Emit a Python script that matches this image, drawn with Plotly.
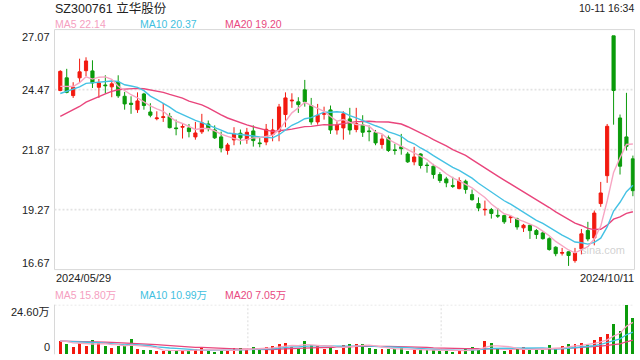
import plotly.graph_objects as go
import pandas as pd

# ---------------- data ----------------
start_label = "2024/05/29"
end_label = "2024/10/11"
stamp = "10-11 16:34"
title = "SZ300761 立华股份"

opens = [24.43, 24.98, 24.21, 24.98, 25.29, 25.28, 24.57, 24.67, 24.59, 24.80,
         24.18, 23.88, 23.60, 24.28, 23.50, 23.21, 23.26, 23.31, 22.81, 22.84,
         22.81, 22.42, 22.64, 22.98, 22.72, 22.42, 21.83, 22.29, 22.58, 22.30,
         22.68, 22.16, 22.20, 22.52, 22.66, 23.39, 23.98, 23.94, 24.46, 23.78,
         23.07, 23.40, 23.59, 22.72, 22.81, 23.20, 22.74, 22.94, 22.68, 22.61,
         22.09, 22.38, 21.86, 21.99, 21.68, 21.34, 21.68, 21.20, 21.15, 20.79,
         20.60, 20.31, 20.18, 20.50, 19.92, 19.53, 19.26, 19.27, 19.02, 19.01,
         18.92, 18.87, 18.48, 18.59, 18.36, 18.26, 18.01, 17.64, 17.38, 17.44,
         17.06, 17.57, 18.36, 18.04, 19.53, 20.74, 26.80, 23.24, 22.42, 21.47]
highs = [25.31, 25.37, 24.79, 25.81, 25.87, 25.74, 24.93, 25.09, 24.86, 25.09,
         24.37, 24.18, 24.35, 24.33, 23.88, 23.53, 23.89, 23.46, 23.17, 22.98,
         22.98, 23.07, 23.42, 23.13, 22.92, 22.65, 22.16, 22.84, 22.74, 22.81,
         22.92, 22.38, 22.98, 23.20, 23.85, 24.35, 24.31, 24.14, 24.89, 24.11,
         23.85, 23.73, 23.78, 23.10, 23.53, 23.68, 23.68, 23.36, 22.92, 22.72,
         22.52, 22.48, 22.12, 22.55, 21.77, 21.99, 21.71, 21.31, 21.25, 20.89,
         20.69, 20.69, 20.67, 20.57, 20.14, 19.80, 19.66, 19.34, 19.34, 19.05,
         19.03, 18.92, 18.65, 18.62, 18.43, 18.33, 18.07, 17.68, 17.61, 17.46,
         17.61, 18.43, 18.74, 19.23, 20.47, 22.98, 26.80, 23.39, 24.33, 21.61]
lows = [24.40, 24.31, 24.11, 24.76, 25.05, 24.54, 24.11, 24.30, 24.14, 24.11,
        23.60, 23.42, 23.46, 23.60, 23.27, 23.14, 23.07, 22.79, 22.49, 22.35,
        22.40, 22.30, 22.55, 22.66, 22.33, 21.75, 21.65, 22.06, 22.09, 22.12,
        22.00, 21.97, 22.06, 22.23, 22.23, 22.84, 23.68, 23.46, 23.73, 22.95,
        22.95, 23.17, 22.55, 22.52, 22.30, 22.52, 22.62, 22.42, 22.23, 22.06,
        21.91, 21.77, 21.65, 21.65, 21.29, 21.19, 21.05, 20.87, 20.61, 20.43,
        20.24, 20.21, 20.15, 19.96, 19.66, 19.20, 19.01, 18.88, 18.91, 18.65,
        18.69, 18.40, 18.30, 18.00, 18.00, 17.97, 17.49, 17.25, 17.28, 16.83,
        16.97, 17.33, 17.90, 17.72, 19.39, 20.43, 22.95, 20.79, 21.83, 19.85]
closes = [25.26, 24.35, 24.57, 25.24, 25.71, 24.76, 24.76, 24.64, 24.72, 24.20,
          23.85, 23.83, 23.98, 23.78, 23.36, 23.24, 23.29, 22.82, 22.78, 22.87,
          22.65, 22.59, 23.03, 22.78, 22.38, 21.94, 22.07, 22.55, 22.38, 22.62,
          22.26, 22.13, 22.75, 22.72, 23.72, 24.11, 24.01, 23.82, 23.94, 23.07,
          23.36, 23.43, 22.72, 22.94, 23.42, 22.72, 23.00, 22.62, 22.65, 22.16,
          22.33, 21.83, 21.83, 21.91, 21.34, 21.55, 21.18, 21.18, 20.79, 20.53,
          20.43, 20.28, 20.53, 20.14, 19.70, 19.34, 19.28, 19.10, 18.99, 18.74,
          18.95, 18.52, 18.59, 18.36, 18.19, 18.01, 17.54, 17.36, 17.41, 17.28,
          17.39, 18.22, 18.00, 19.12, 19.99, 22.88, 24.43, 21.15, 22.01, 20.09]
# closes of the 19 sessions before the window (only feed the moving averages)
prior_closes = [21.70, 21.85, 22.05, 21.95, 22.20, 22.40, 22.35, 22.60, 22.75, 23.35,
                23.40, 23.75, 24.10, 24.20, 24.50, 24.30, 24.65, 24.40, 24.44]

# volume in 万
volumes = [6.8, 5.1, 3.6, 5.6, 4.1, 7.1, 5.5, 4.1, 3.1, 4.1,
           4.1, 7.6, 2.6, 2.1, 2.1, 1.7, 1.7, 2.1, 1.7, 1.7,
           2.1, 2.6, 3.1, 1.7, 1.3, 1.7, 1.8, 3.1, 3.1, 2.6,
           3.6, 2.1, 3.6, 4.1, 5.1, 5.6, 3.6, 3.1, 6.6, 4.6,
           4.1, 2.6, 3.6, 2.1, 4.6, 5.1, 5.1, 5.1, 3.1, 2.6,
           2.6, 2.6, 2.6, 3.1, 1.7, 2.1, 2.6, 2.1, 2.1, 1.7,
           1.7, 1.2, 1.7, 2.6, 3.6, 2.6, 6.6, 5.6, 2.6, 1.7,
           2.1, 2.5, 3.5, 2.5, 2.1, 2.1, 4.5, 2.5, 4.0, 5.0,
           5.1, 5.6, 4.6, 6.9, 8.5, 10.3, 14.8, 11.5, 24.6, 18.0]
prior_volumes = [5.8, 6.2, 7.0, 6.5, 5.9, 6.8, 7.4, 6.1, 6.6, 7.2,
                 6.9, 6.3, 7.0, 6.4, 5.8, 6.2, 7.1, 6.9, 6.0]

price_ticks = [16.67, 19.27, 21.87, 24.47, 27.07]
vol_max = 24.60
ma_legend = [("MA5", "22.14"), ("MA10", "20.37"), ("MA20", "19.20")]
vol_ma_legend = [("MA5", "15.80万"), ("MA10", "10.99万"), ("MA20", "7.05万")]

# ---------------- styles ----------------
RED = "#f2190f"
GREEN = "#0b9b0b"
MA_COLORS = ["#f7a6c3", "#45c2e4", "#e9457c"]
LEG_COLORS = ["#f5a0bf", "#3fbfe0", "#e84a7f"]
GRID = "#e2e2e2"
FRAME = "#d8d8d8"
FONT = "Liberation Sans, Arial, Noto Sans CJK SC, sans-serif"
TXT = "#222222"

W, H = 640, 360
def px(x):
    return x / W
def py(y):
    return 1 - y / H

xl, xr = 54.5, 634.5
p_top, p_bot = 29.6, 269.6
v_top, v_bot = 304.7, 354.3

n = len(closes)
xs = list(range(n))

all_close = pd.Series(prior_closes + closes)
all_vol = pd.Series(prior_volumes + volumes)
k0 = len(prior_closes)

fig = go.Figure()
fig.add_trace(go.Candlestick(
    x=xs, open=opens, high=highs, low=lows, close=closes,
    increasing=dict(line=dict(color=RED, width=1), fillcolor=RED),
    decreasing=dict(line=dict(color=GREEN, width=1), fillcolor=GREEN),
    whiskerwidth=0, xaxis="x", yaxis="y", showlegend=False, hoverinfo="skip"))

for w, c in zip([20, 10, 5], [MA_COLORS[2], MA_COLORS[1], MA_COLORS[0]]):
    ma = all_close.rolling(w).mean().iloc[k0:].tolist()
    fig.add_trace(go.Scatter(x=xs, y=ma, mode="lines", line=dict(color=c, width=1.4),
                             xaxis="x", yaxis="y", showlegend=False, hoverinfo="skip"))

bar_colors = [RED if c >= o else GREEN for o, c in zip(opens, closes)]
fig.add_trace(go.Bar(x=xs, y=volumes, marker=dict(color=bar_colors, line=dict(width=0)),
                     width=0.46, xaxis="x2", yaxis="y2", showlegend=False, hoverinfo="skip"))
for w, c in zip([20, 10, 5], [MA_COLORS[2], MA_COLORS[1], MA_COLORS[0]]):
    ma = all_vol.rolling(w).mean().iloc[k0:].tolist()
    fig.add_trace(go.Scatter(x=xs, y=ma, mode="lines", line=dict(color=c, width=1.3),
                             xaxis="x2", yaxis="y2", showlegend=False, hoverinfo="skip"))

xrange = [-0.9, n - 1 + 0.25]
fig.update_layout(
    width=W, height=H, margin=dict(l=0, r=0, t=0, b=0),
    paper_bgcolor="white", plot_bgcolor="white",
    xaxis=dict(domain=[px(xl), px(xr)], range=xrange, visible=False,
               rangeslider=dict(visible=False), anchor="y"),
    yaxis=dict(domain=[py(p_bot), py(p_top)], range=[price_ticks[0], price_ticks[-1]],
               visible=False, anchor="x"),
    xaxis2=dict(domain=[px(xl), px(xr)], range=xrange, visible=False, anchor="y2"),
    yaxis2=dict(domain=[py(v_bot), py(v_top)], range=[0, vol_max], visible=False, anchor="x2"),
    bargap=0,
)

shapes = []
# price frame
shapes.append(dict(type="rect", xref="paper", yref="paper", x0=px(xl), x1=px(xr),
                   y0=py(p_bot), y1=py(p_top), line=dict(color=FRAME, width=1), layer="below"))
for t in price_ticks[1:-1]:
    shapes.append(dict(type="line", xref="paper", yref="y", x0=px(xl), x1=px(xr), y0=t, y1=t,
                       line=dict(color=GRID, width=1.6, dash="2px,2px"), layer="below"))
# volume panel
shapes.append(dict(type="line", xref="paper", yref="y2", x0=px(xl), x1=px(xr), y0=vol_max, y1=vol_max,
                   line=dict(color=GRID, width=1.6, dash="2px,2px"), layer="below"))
shapes.append(dict(type="line", xref="paper", yref="paper", x0=px(xl), x1=px(xl),
                   y0=py(v_bot), y1=py(v_top), line=dict(color=FRAME, width=1), layer="below"))
for frac in (1 / 3, 2 / 3):
    xx = xl + (xr - xl) * frac
    shapes.append(dict(type="line", xref="paper", yref="paper", x0=px(xx), x1=px(xx),
                       y0=py(v_bot), y1=py(v_top),
                       line=dict(color=GRID, width=1.2, dash="2px,2px"), layer="below"))
fig.update_layout(shapes=shapes)

ann = []
def text(x, y, s, size=11, color=TXT, xanchor="left", yanchor="middle", yref="paper"):
    ann.append(dict(x=x, y=y, xref="paper", yref=yref, text=s, showarrow=False,
                    font=dict(family=FONT, size=size, color=color),
                    xanchor=xanchor, yanchor=yanchor, borderpad=0))

text(px(54), py(8), title, size=12.5, color=TXT)
text(px(634.5), py(7.5), stamp, size=10.5, color=TXT, xanchor="right")
for i, (name, val) in enumerate(ma_legend):
    text(px(54 + 85 * i), py(24), f"{name} {val}", size=10.5, color=LEG_COLORS[i])
for i, (name, val) in enumerate(vol_ma_legend):
    text(px(54 + 85 * i), py(295), f"{name} {val}", size=10.5, color=LEG_COLORS[i])

for t in price_ticks:
    ya = "top" if t == price_ticks[-1] else ("bottom" if t == price_ticks[0] else "middle")
    text(px(50.5), t, f"{t:.2f}", size=11, xanchor="right", yanchor=ya, yref="y")
text(px(50.5), vol_max, f"{vol_max:.2f}万", size=11, xanchor="right", yanchor="top", yref="y2")
text(px(50.5), 0, "0", size=11, xanchor="right", yanchor="bottom", yref="y2")

text(px(54.5), py(277.5), start_label, size=11)
text(px(634.5), py(277.5), end_label, size=11, xanchor="right")
text(px(603), py(250), "sina.com", size=11, color="rgba(170,170,170,0.55)", xanchor="center")
fig.update_layout(annotations=ann)

fig.write_html("out.html",
               config={"displayModeBar": False, "staticPlot": True},
               post_script="document.body.style.margin='0';document.body.style.padding='0';"
                           "document.body.style.overflow='hidden';")
